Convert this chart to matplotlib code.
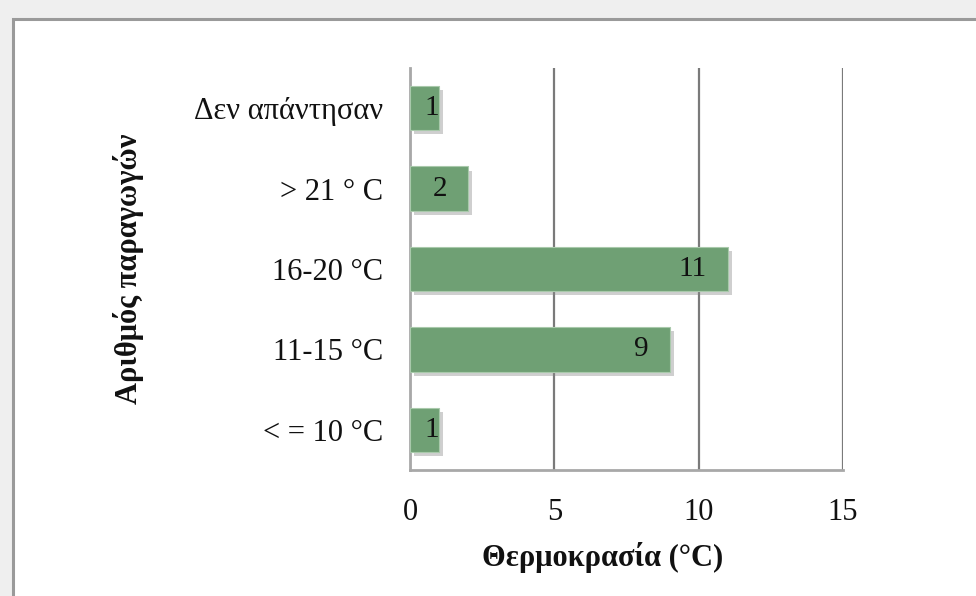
import matplotlib
matplotlib.use("Agg")
import matplotlib.pyplot as plt
import matplotlib.patheffects as pe
from matplotlib.patches import Rectangle

categories = ["< = 10 °C", "11-15 °C", "16-20 °C", "> 21 ° C", "Δεν απάντησαν"]
values = [1, 9, 11, 2, 1]
xticks = [0, 5, 10, 15]

plt.rcParams['font.family'] = ['Liberation Serif', 'DejaVu Serif']

fig = plt.figure(figsize=(9.76, 5.96), dpi=100)
fig.patch.set_facecolor("#efefef")

# white frame around the chart
frame = Rectangle((12.5 / 976, -0.05), 1.1, 1 - 18.5 / 596 + 0.05,
                  transform=fig.transFigure, facecolor="white",
                  edgecolor="#9a9a9a", linewidth=2.2, zorder=-10)
fig.patches.append(frame)

ax = fig.add_axes([410 / 976, 1 - 470 / 596, 433 / 976, 402 / 596])
ax.set_facecolor("none")

shadow = [pe.SimplePatchShadow(offset=(3, -3), shadow_rgbFace="#888888", alpha=0.4), pe.Normal()]
bars = ax.barh(range(len(categories)), values, height=0.55, color="#6fa074",
               edgecolor="#a9c9ab", linewidth=0.8, zorder=3)
for b in bars:
    b.set_path_effects(shadow)

for i, v in enumerate(values):
    off = -15 if v >= 2 else 0
    ax.annotate(str(v), xy=(v, i), xytext=(off, 0), textcoords="offset points",
                ha="right", va="center", fontsize=21, color="#111111", zorder=4)

ax.set_xlim(0, 15)
ax.set_ylim(-0.5, 4.5)
ax.set_xticks(xticks)
ax.set_yticks(range(len(categories)))
ax.set_yticklabels(categories)
ax.tick_params(axis="x", length=0, pad=20, labelsize=22, colors="#111111")
ax.tick_params(axis="y", length=0, pad=19.5, labelsize=22, colors="#111111")

ax.grid(axis="x", color="#7a7a7a", linewidth=1.6, zorder=1)
ax.grid(axis="y", visible=False)
for s in ["top", "right"]:
    ax.spines[s].set_visible(False)
for s in ["left", "bottom"]:
    ax.spines[s].set_color("#a8a8a8")
    ax.spines[s].set_linewidth(2)

ax.set_xlabel("Θερμοκρασία (°C)", fontsize=22, fontweight="bold", color="#111111")
ax.xaxis.set_label_coords(0.446, -0.178)
ax.set_ylabel("Αριθμός παραγωγών", fontsize=22, fontweight="bold", color="#111111")
ax.yaxis.set_label_coords(-0.615, 0.5)

fig.savefig("out.png", dpi=100, facecolor=fig.get_facecolor())
